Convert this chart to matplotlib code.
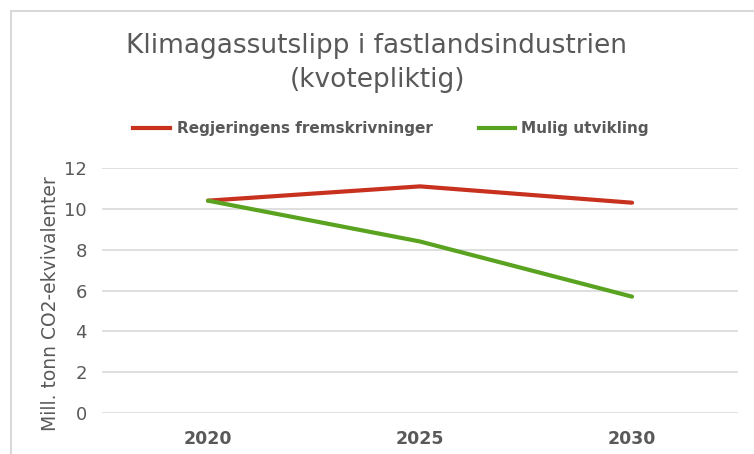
import matplotlib.pyplot as plt
from matplotlib.lines import Line2D

# data
years = ["2020", "2025", "2030"]
regjering = [10.4, 11.1, 10.3]
mulig = [10.4, 8.4, 5.7]
yticks = [0, 2, 4, 6, 8, 10, 12]

red = "#c9311f"
green = "#5aa321"
grey_txt = "#595959"

fig = plt.figure(figsize=(7.54, 4.54), dpi=100)
# plot area: x 102..738 px, y 168..413 px
ax = fig.add_axes([102 / 754, 1 - 413 / 454, 636 / 754, 245 / 454])

x = range(len(years))
ax.plot(x, regjering, color=red, lw=3.0, solid_capstyle="round")
ax.plot(x, mulig, color=green, lw=3.0, solid_capstyle="round")

ax.set_xlim(-0.5, 2.5)
ax.set_ylim(0, 12)
ax.set_yticks(yticks)
ax.set_xticks(list(x))
ax.set_xticklabels(years, fontsize=12.5, fontweight="bold", color=grey_txt)
for lab in ax.get_yticklabels():
    lab.set_fontsize(13)
    lab.set_color(grey_txt)
ax.tick_params(length=0, pad=11, axis="y")
ax.tick_params(length=0, pad=12, axis="x")
ax.grid(axis="y", color="#d9d9d9", lw=1.2)
ax.set_axisbelow(True)
for s in ax.spines.values():
    s.set_visible(False)

fig.text(50 / 754, 1 - 304 / 454, "Mill. tonn CO2-ekvivalenter", rotation=90,
         ha="center", va="center", fontsize=13.5, color=grey_txt)

fig.text(0.5, 1 - 46 / 454, "Klimagassutslipp i fastlandsindustrien",
         ha="center", va="center", fontsize=19, color=grey_txt)
fig.text(0.5, 1 - 80 / 454, "(kvotepliktig)",
         ha="center", va="center", fontsize=19, color=grey_txt)

# legend drawn by hand at the top
ly = 1 - 128 / 454
fig.add_artist(Line2D([133 / 754, 170 / 754], [ly, ly], color=red, lw=3.0))
fig.text(177 / 754, ly, "Regjeringens fremskrivninger", fontsize=11,
         fontweight="bold", color=grey_txt, va="center")
fig.add_artist(Line2D([479 / 754, 515 / 754], [ly, ly], color=green, lw=3.0))
fig.text(521 / 754, ly, "Mulig utvikling", fontsize=11,
         fontweight="bold", color=grey_txt, va="center")

# chart frame (only left and top edges are visible in the crop)
fig.add_artist(Line2D([11 / 754, 11 / 754], [0, 1 - 11 / 454], color="#d9d9d9", lw=1.5))
fig.add_artist(Line2D([11 / 754, 1], [1 - 11 / 454, 1 - 11 / 454], color="#d9d9d9", lw=1.5))

fig.savefig("out.png", dpi=100)
